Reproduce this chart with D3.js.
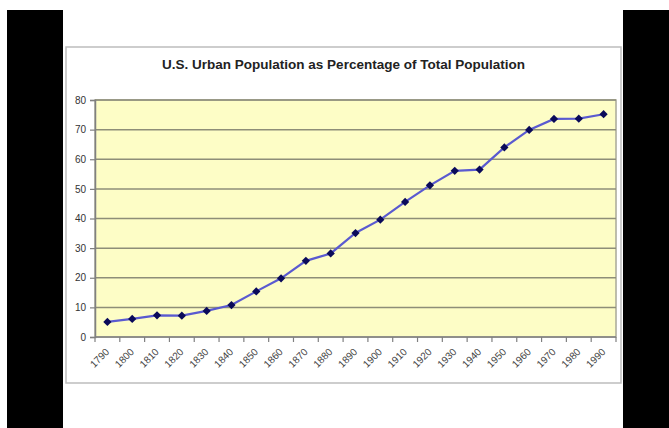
<!DOCTYPE html>
<html>
<head>
<meta charset="utf-8">
<script src="https://cdn.jsdelivr.net/npm/d3@7"></script>
<style>
  body { margin: 0; background: #fff; }
  svg { display: block; }
  text { font-family: "Liberation Sans", Arial, sans-serif; }
</style>
</head>
<body>
<svg width="669" height="428"></svg>
<script>
var years = ["1790","1800","1810","1820","1830","1840","1850","1860","1870","1880",
             "1890","1900","1910","1920","1930","1940","1950","1960","1970","1980","1990"];
var urbanPct = [5.1, 6.1, 7.3, 7.2, 8.8, 10.8, 15.4, 19.8, 25.7, 28.2,
                35.1, 39.6, 45.6, 51.2, 56.1, 56.5, 64.0, 69.9, 73.6, 73.7, 75.2];
var yTicks = [0, 10, 20, 30, 40, 50, 60, 70, 80];
var title = "U.S. Urban Population as Percentage of Total Population";

var svg = d3.select("svg"),
    width = +svg.attr("width"),
    height = +svg.attr("height");

// black side bars of the screenshot
svg.append("rect").attr("x", 7).attr("y", 10).attr("width", 56).attr("height", height - 10).attr("fill", "#000");
svg.append("rect").attr("x", 623).attr("y", 10).attr("width", width - 623).attr("height", height - 10).attr("fill", "#000");

// chart frame
svg.append("rect")
    .attr("x", 66).attr("y", 47).attr("width", 555).attr("height", 336)
    .attr("fill", "#fff")
    .attr("stroke", "#bdbdbd")
    .attr("stroke-width", 1.5);

svg.append("text")
    .attr("x", 343.5).attr("y", 69)
    .attr("text-anchor", "middle")
    .style("font-size", "13.5px")
    .style("font-weight", "bold")
    .style("fill", "#222")
    .text(title);

var plot = {left: 95, top: 100, right: 616, bottom: 337};

var x = d3.scaleBand()
    .domain(years)
    .range([plot.left, plot.right]);

var y = d3.scaleLinear()
    .domain([0, 80])
    .range([plot.bottom, plot.top]);

svg.append("rect")
    .attr("x", plot.left).attr("y", plot.top)
    .attr("width", plot.right - plot.left).attr("height", plot.bottom - plot.top)
    .attr("fill", "#fdfdc6")
    .attr("stroke", "#a8a898")
    .attr("stroke-width", 1.5);

// gridlines
svg.selectAll(".grid")
    .data(yTicks.filter(function (d) {return d > 0;}))
    .enter()
    .append("line")
    .attr("class", "grid")
    .attr("x1", plot.left).attr("x2", plot.right)
    .attr("y1", function (d) {return y(d);})
    .attr("y2", function (d) {return y(d);})
    .attr("stroke", "#8e8e78")
    .attr("stroke-width", 1.5);

// y axis
var yAxis = svg.append("g")
    .attr("transform", "translate(" + plot.left + ",0)")
    .call(d3.axisLeft(y).tickValues(yTicks).tickSize(5).tickPadding(4));
yAxis.select(".domain").attr("stroke", "#808080").attr("stroke-width", 1.5);
yAxis.selectAll(".tick line").attr("stroke", "#808080").attr("stroke-width", 1.2);
yAxis.selectAll("text")
    .style("font-size", "10px")
    .style("font-family", "Liberation Sans, Arial, sans-serif")
    .style("fill", "#333");

// x axis: ticks at category boundaries
var bounds = years.map(function (d) {return x(d);}).concat([plot.right]);
var xAxis = svg.append("g");
xAxis.append("line")
    .attr("x1", plot.left).attr("x2", plot.right)
    .attr("y1", plot.bottom).attr("y2", plot.bottom)
    .attr("stroke", "#808080").attr("stroke-width", 1.5);
xAxis.selectAll(".xtick")
    .data(bounds)
    .enter()
    .append("line")
    .attr("class", "xtick")
    .attr("x1", function (d) {return d;}).attr("x2", function (d) {return d;})
    .attr("y1", plot.bottom).attr("y2", plot.bottom + 5)
    .attr("stroke", "#808080").attr("stroke-width", 1.2);
xAxis.selectAll(".xlabel")
    .data(years)
    .enter()
    .append("text")
    .attr("class", "xlabel")
    .attr("transform", function (d) {
        return "translate(" + (x(d) + x.bandwidth() / 2) + "," + (plot.bottom + 13) + ") rotate(-45)";
    })
    .attr("text-anchor", "end")
    .attr("dy", "0.35em")
    .style("font-size", "10px")
    .style("fill", "#444")
    .text(function (d) {return d;});

// series
var pts = years.map(function (d, i) {return {year: d, value: urbanPct[i]};});

var line = d3.line()
    .x(function (d) {return x(d.year) + x.bandwidth() / 2;})
    .y(function (d) {return y(d.value);});

svg.append("path")
    .datum(pts)
    .attr("d", line)
    .attr("fill", "none")
    .attr("stroke", "#5a5ad0")
    .attr("stroke-width", 2.2);

svg.selectAll(".marker")
    .data(pts)
    .enter()
    .append("path")
    .attr("class", "marker")
    .attr("d", d3.symbol().type(d3.symbolSquare).size(34))
    .attr("transform", function (d) {
        return "translate(" + (x(d.year) + x.bandwidth() / 2) + "," + y(d.value) + ") rotate(45)";
    })
    .attr("fill", "#0a0a5a");
</script>
</body>
</html>
